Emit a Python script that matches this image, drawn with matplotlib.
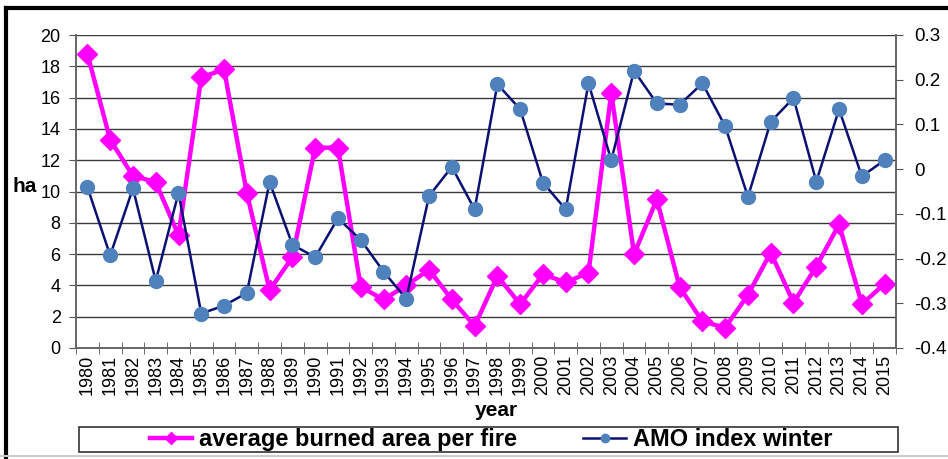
#!/usr/bin/env python3
# Burned area per fire vs winter AMO index, 1980-2015 (two y axes).

import matplotlib
matplotlib.use("Agg")
import matplotlib.pyplot as plt
from matplotlib.patches import Rectangle
from matplotlib.lines import Line2D

years = list(range(1980, 2016))

# average burned area per fire, ha
burned_area = [18.8, 13.3, 11.0, 10.6, 7.2, 17.3, 17.8, 9.9, 3.7, 5.8,
               12.8, 12.8, 3.9, 3.1, 4.0, 5.0, 3.1, 1.4, 4.6, 2.8,
               4.7, 4.2, 4.8, 16.3, 6.0, 9.5, 3.9, 1.7, 1.3, 3.4,
               6.1, 2.9, 5.2, 7.9, 2.8, 4.1]

# AMO index, winter
amo_winter = [-0.040, -0.193, -0.043, -0.250, -0.053, -0.323, -0.305, -0.277, -0.029, -0.169,
              -0.197, -0.110, -0.158, -0.229, -0.290, -0.060, 0.005, -0.090, 0.190, 0.134,
              -0.030, -0.090, 0.192, 0.020, 0.220, 0.147, 0.144, 0.192, 0.096, -0.062,
              0.106, 0.159, -0.028, 0.134, -0.016, 0.020]

left_ticks = list(range(0, 21, 2))
right_ticks = [-0.4, -0.3, -0.2, -0.1, 0, 0.1, 0.2, 0.3]
right_labels = ["-0.4", "-0.3", "-0.2", "-0.1", "0", "0.1", "0.2", "0.3"]

plt.rcParams["font.family"] = ["Liberation Sans", "DejaVu Sans"]

W, H = 948, 459
fig = plt.figure(figsize=(W / 100, H / 100), dpi=100)
ax = fig.add_axes([76 / W, 1 - 348 / H, 820 / W, 313 / H])
ax2 = ax.twinx()

x = list(range(len(years)))
ax.plot(x, burned_area, color="#FF00FF", lw=3.2, marker="D", ms=10,
        mec="#FF00FF", mfc="#FF00FF", label="average burned area per fire", zorder=3)
ax2.plot(x, amo_winter, color="#0A1172", lw=1.8, marker="o", ms=10,
         mec="#4F81BD", mfc="#4F81BD", label="AMO index winter", zorder=3)

ax.set_xlim(-0.5, len(years) - 0.5)
ax.set_ylim(0, 20)
ax2.set_ylim(-0.4, 0.3)

ax.set_yticks(left_ticks)
ax.set_yticklabels([str(t) for t in left_ticks], fontsize=13)
ax2.set_yticks(right_ticks)
ax2.set_yticklabels(right_labels, fontsize=13.5)

ax.yaxis.grid(True, color="#3a3a3a", lw=1.0)
ax.set_axisbelow(True)

ax.set_xticks(x)
ax.set_xticklabels([str(y) for y in years], rotation=90, fontsize=13)
ax.set_xticks([i - 0.5 for i in range(len(years) + 1)], minor=True)
ax.tick_params(axis="x", which="major", length=0, pad=5)
ax.tick_params(axis="x", which="minor", direction="inout", length=8, color="#555555")
ax.tick_params(axis="y", direction="out", length=5, color="#555555", pad=6)
ax2.tick_params(axis="y", direction="out", length=5, color="#555555", pad=8)

for a in (ax, ax2):
    a.spines["top"].set_visible(False)
    for s in ("left", "right", "bottom"):
        a.spines[s].set_color("#666666")
        a.spines[s].set_linewidth(1.2)

fig.text(496 / W, 1 - 410 / H, "year", fontsize=15, fontweight="bold", ha="center", va="center")
fig.text(13 / W, 1 - 186 / H, "ha", fontsize=15, fontweight="bold", va="center", ha="left")

h1, l1 = ax.get_legend_handles_labels()
h2, l2 = ax2.get_legend_handles_labels()
leg = fig.legend(h1 + h2, l1 + l2, loc="center", ncol=2,
                 bbox_to_anchor=(491 / W, 1 - 439.5 / H),
                 prop={"size": 17, "weight": "bold"}, frameon=False,
                 borderpad=0.0, columnspacing=2.8, handlelength=1.8,
                 handletextpad=0.3, markerscale=0.6)

# legend box
fig.patches.append(Rectangle((79 / W, 1 - 452 / H), 819 / W, 25 / H, transform=fig.transFigure,
                             fill=False, edgecolor="#333333", lw=1.2))

# outer chart border: only top and left edges show in the original
fig.lines.append(Line2D([5.5 / W, 1], [1 - 8 / H, 1 - 8 / H], transform=fig.transFigure,
                        color="black", lw=3, solid_capstyle="projecting"))
fig.lines.append(Line2D([5.5 / W, 5.5 / W], [0, 1 - 8 / H], transform=fig.transFigure,
                        color="black", lw=3, solid_capstyle="projecting"))
fig.lines.append(Line2D([0, 1], [1 - 456 / H, 1 - 456 / H], transform=fig.transFigure,
                        color="#cccccc", lw=1.5))

fig.savefig("out.png", dpi=100)
